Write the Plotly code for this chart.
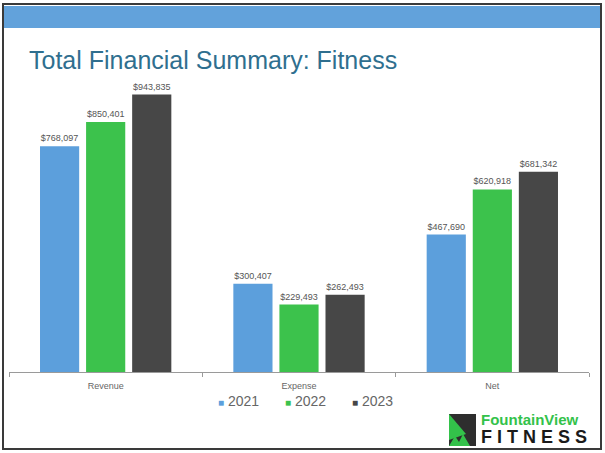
import plotly.graph_objects as go

categories = ["Revenue", "Expense", "Net"]
years = ["2021", "2022", "2023"]
values_2021 = [768097, 300407, 467690]
values_2022 = [850401, 229493, 620918]
values_2023 = [943835, 262493, 681342]
series = [values_2021, values_2022, values_2023]
colors = ["#5c9fdc", "#3cc24c", "#474747"]

W, H = 605, 453
L, R, T, B = 9, 589, 78, 372


def px(x):
    return (x - L) / (R - L)


def py(y):
    return (B - y) / (B - T)


fig = go.Figure()
for yr, vals, col in zip(years, series, colors):
    fig.add_trace(go.Bar(
        x=categories, y=vals, name=yr, marker_color=col, marker_line_width=0,
        text=[f"${v:,.0f}" for v in vals], textposition="outside",
        textfont=dict(size=9, color="#555555", family="Liberation Sans"),
        cliponaxis=False, showlegend=False,
    ))

shapes = [
    # outer frame
    dict(type="rect", xref="paper", yref="paper", x0=px(3), x1=px(601), y0=py(449), y1=py(4),
         line=dict(color="#3a3a3a", width=2), layer="below"),
    # blue band
    dict(type="rect", xref="paper", yref="paper", x0=px(4), x1=px(600), y0=py(28), y1=py(6),
         fillcolor="#62a2db", line=dict(width=0), layer="below"),
    # logo icon: dark square
    dict(type="path", xref="paper", yref="paper",
         path=f"M {px(449)},{py(414)} L {px(476)},{py(414)} L {px(476)},{py(446)} L {px(449)},{py(446)} Z",
         fillcolor="#2e2e2e", line=dict(width=0)),
    # logo icon: green triangle
    dict(type="path", xref="paper", yref="paper",
         path=f"M {px(449)},{py(414)} L {px(466)},{py(434)} L {px(449)},{py(440)} Z",
         fillcolor="#33c24a", line=dict(width=0)),
    # logo icon: green bottom peaks
    dict(type="path", xref="paper", yref="paper",
         path=(f"M {px(449)},{py(446)} L {px(455)},{py(436)} L {px(459)},{py(442)} "
               f"L {px(463)},{py(434)} L {px(470)},{py(446)} Z"),
         fillcolor="#33c24a", line=dict(width=0)),
]

annotations = [
    dict(text="Total Financial Summary: Fitness", xref="paper", yref="paper",
         x=px(27), y=py(60), xanchor="left", yanchor="middle", showarrow=False,
         font=dict(size=25, color="#2f6f8f", family="Liberation Sans")),
    dict(text="<b>FountainView</b>", xref="paper", yref="paper",
         x=px(479), y=py(419), xanchor="left", yanchor="middle", showarrow=False,
         font=dict(size=15, color="#33c24a", family="Liberation Sans")),
    dict(text="<b>F I T N E S S</b>", xref="paper", yref="paper",
         x=px(479), y=py(437), xanchor="left", yanchor="middle", showarrow=False,
         font=dict(size=18, color="#1a1a1a", family="Liberation Sans")),
]

# legend drawn as a row of entries
legend_x = [216, 283, 350]
for yr, col, lx in zip(years, colors, legend_x):
    annotations.append(dict(
        text=f"<span style='font-size:10px;color:{col}'>■</span> {yr}",
        xref="paper", yref="paper", x=px(lx), y=py(401), xanchor="left", yanchor="middle",
        showarrow=False, font=dict(size=14, color="#666666", family="Liberation Sans"),
    ))

fig.update_layout(
    width=W, height=H,
    margin=dict(l=L, r=W - R, t=T, b=H - B),
    paper_bgcolor="white", plot_bgcolor="white",
    barmode="group", bargap=0.285, bargroupgap=0.15,
    shapes=shapes, annotations=annotations,
    showlegend=False,
    font=dict(family="Liberation Sans"),
)
fig.update_xaxes(
    showline=True, linecolor="#9a9a9a", linewidth=1, ticks="outside", tickson="boundaries",
    ticklen=4, tickcolor="#9a9a9a", showgrid=False,
    tickfont=dict(size=9, color="#666666", family="Liberation Sans"), ticklabelstandoff=5,
)
fig.update_yaxes(range=[0, 1000000], visible=False, showgrid=False)

fig.write_html("out.html", config={"displayModeBar": False},
               post_script="document.body.style.margin='0';")
